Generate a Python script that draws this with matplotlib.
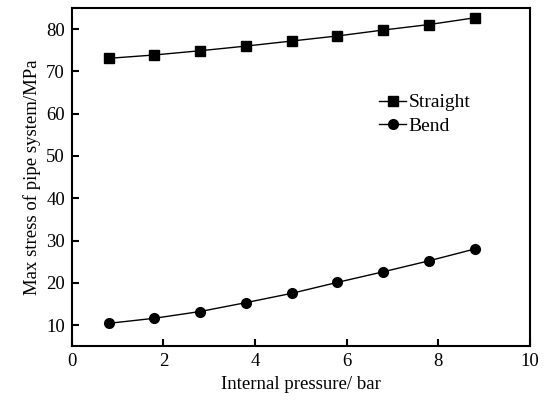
import matplotlib
matplotlib.use("Agg")
import matplotlib.pyplot as plt

# --- Data ---
pressure = [0.8, 1.8, 2.8, 3.8, 4.8, 5.8, 6.8, 7.8, 8.8]
straight = [73.1, 73.9, 74.9, 76.0, 77.2, 78.4, 79.8, 81.1, 82.7]
bend = [10.4, 11.6, 13.2, 15.3, 17.5, 20.1, 22.6, 25.2, 28.0]

plt.rcParams["font.family"] = ["Liberation Serif", "DejaVu Serif"]
plt.rcParams["font.size"] = 13

fig = plt.figure(figsize=(5.53, 4.03), dpi=100)
ax = fig.add_axes([0.130, 0.141, 0.828, 0.839])

ax.plot(pressure, straight, color="black", lw=1, marker="s", ms=6.5, label="Straight")
ax.plot(pressure, bend, color="black", lw=1, marker="o", ms=7, label="Bend")

ax.set_xlim(0, 10)
ax.set_ylim(5, 85)
ax.set_xticks(range(0, 11, 2))
ax.set_yticks(range(10, 81, 10))
ax.tick_params(direction="in", length=5, width=1.5, labelsize=13.5, pad=5)
for s in ax.spines.values():
    s.set_linewidth(1.5)

ax.set_xlabel("Internal pressure/ bar", fontsize=13.5)
ax.set_ylabel("Max stress of pipe system/MPa", fontsize=13.5)

ax.legend(loc="upper left", bbox_to_anchor=(0.65, 0.775), frameon=False,
          handlelength=1.4, handletextpad=0.1, labelspacing=0.3, borderpad=0, fontsize=14)

fig.savefig("out.png", dpi=100)
